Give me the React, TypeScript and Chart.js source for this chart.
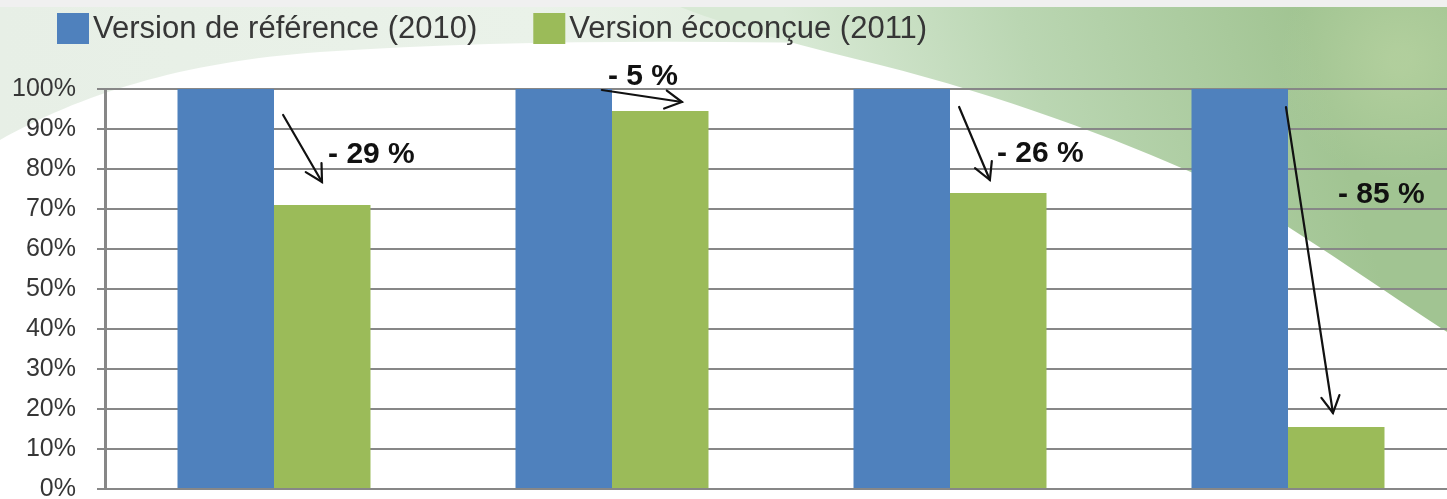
import React, { useEffect, useRef } from 'react';
import { Chart, registerables } from 'chart.js';

Chart.register(...registerables);

// ---- data ----
const categories = ['1', '2', '3', '4'];
const seriesLabels = ['Version de référence (2010)', 'Version écoconçue (2011)'];
const reference2010 = [100, 100, 100, 100];
const ecodesign2011 = [71, 94.5, 74, 15.5];
const reductionLabels = ['- 29 %', '- 5 %', '- 26 %', '- 85 %'];
const yTickStep = 10;
const yMax = 100;

// ---- styles ----
const seriesColors = ['#4f81bd', '#9bbb59'];
const FONT = "'Liberation Sans', Arial, Helvetica, sans-serif";
const gridColor = '#878787';
const textColor = '#363636';
const yAxisWidth = 105;

// annotation geometry: [category offset (fraction of a category), value]
const arrowGeometry = [
  { from: [0.027, 93.5], to: [0.142, 76.75], label: [0.16, 83.5] },
  { from: [-0.03, 99.75], to: [0.207, 96.75], label: [-0.012, 103] },
  { from: [0.027, 95.5], to: [0.118, 77.25], label: [0.139, 83.75] },
  { from: [-0.006, 95.5], to: [0.133, 19], label: [0.148, 73.5] },
];

const backgroundPlugin = {
  id: 'swooshBackground',
  beforeDraw(chart: any) {
    const ctx = chart.ctx as CanvasRenderingContext2D;
    const w = chart.width;
    const h = chart.height;
    ctx.save();
    ctx.fillStyle = '#ffffff';
    ctx.fillRect(0, 0, w, h);

    // light mint area on the top-left
    let g = ctx.createLinearGradient(0, 0, 900, 0);
    g.addColorStop(0, '#e7efe6');
    g.addColorStop(0.6, '#eaf2e9');
    g.addColorStop(1, '#dcebd9');
    ctx.fillStyle = g;
    ctx.beginPath();
    ctx.moveTo(0, 7);
    ctx.lineTo(0, 140);
    ctx.bezierCurveTo(80, 95, 180, 62, 320, 52);
    ctx.bezierCurveTo(500, 40, 700, 40, 900, 45);
    ctx.lineTo(900, 7);
    ctx.closePath();
    ctx.fill();

    // green swoosh on the right
    g = ctx.createLinearGradient(820, 140, 1300, 0);
    g.addColorStop(0, '#d8e9d5');
    g.addColorStop(0.45, '#bad6b2');
    g.addColorStop(1, '#a1c492');
    ctx.fillStyle = g;
    ctx.beginPath();
    ctx.moveTo(680, 7);
    ctx.bezierCurveTo(740, 30, 810, 48, 880, 65);
    ctx.bezierCurveTo(1000, 95, 1120, 140, 1200, 176);
    ctx.bezierCurveTo(1290, 222, 1380, 290, w, 340);
    ctx.lineTo(w, 7);
    ctx.closePath();
    ctx.fill();

    // lighter patch in the far right corner
    const rg = ctx.createRadialGradient(1400, 60, 10, 1400, 60, 120);
    rg.addColorStop(0, 'rgba(190,215,165,0.55)');
    rg.addColorStop(1, 'rgba(190,215,165,0)');
    ctx.fillStyle = rg;
    ctx.beginPath();
    ctx.moveTo(1250, 7);
    ctx.lineTo(w, 7);
    ctx.lineTo(w, 330);
    ctx.bezierCurveTo(1380, 290, 1320, 240, 1250, 205);
    ctx.closePath();
    ctx.fill();

    // gray top band
    ctx.fillStyle = '#f0f0f0';
    ctx.fillRect(0, 0, w, 7);
    ctx.restore();
  },
};

const legendPlugin = {
  id: 'leftLegend',
  afterDraw(chart: any) {
    const ctx = chart.ctx as CanvasRenderingContext2D;
    ctx.save();
    ctx.font = `31px ${FONT}`;
    ctx.textBaseline = 'middle';
    ctx.textAlign = 'left';
    let x = 57;
    const y = 13;
    const boxW = 32;
    const boxH = 31;
    chart.data.datasets.forEach((ds: any) => {
      ctx.fillStyle = ds.backgroundColor;
      ctx.fillRect(x, y, boxW, boxH);
      ctx.fillStyle = textColor;
      const tx = x + boxW + 4;
      ctx.fillText(ds.label, tx, y + boxH / 2 + 1);
      x = tx + ctx.measureText(ds.label).width + 56;
    });
    ctx.restore();
  },
};

const annotationPlugin = {
  id: 'reductionArrows',
  afterDatasetsDraw(chart: any) {
    const ctx = chart.ctx as CanvasRenderingContext2D;
    const xs = chart.scales.x;
    const ys = chart.scales.y;
    const catW = xs.getPixelForValue(1) - xs.getPixelForValue(0);
    const px = (i: number, off: number) => xs.getPixelForValue(i) + off * catW;
    ctx.save();
    ctx.strokeStyle = '#111111';
    ctx.fillStyle = '#111111';
    ctx.lineWidth = 2.2;
    ctx.lineCap = 'round';
    ctx.font = `bold 30px ${FONT}`;
    ctx.textBaseline = 'middle';
    ctx.textAlign = 'left';
    arrowGeometry.forEach((a, i) => {
      const x0 = px(i, a.from[0]);
      const y0 = ys.getPixelForValue(a.from[1]);
      const x1 = px(i, a.to[0]);
      const y1 = ys.getPixelForValue(a.to[1]);
      ctx.beginPath();
      ctx.moveTo(x0, y0);
      ctx.lineTo(x1, y1);
      ctx.stroke();
      const ang = Math.atan2(y1 - y0, x1 - x0);
      const len = 19;
      const spread = 0.5;
      ctx.beginPath();
      ctx.moveTo(x1 - len * Math.cos(ang - spread), y1 - len * Math.sin(ang - spread));
      ctx.lineTo(x1, y1);
      ctx.lineTo(x1 - len * Math.cos(ang + spread), y1 - len * Math.sin(ang + spread));
      ctx.stroke();
      ctx.fillText(reductionLabels[i], px(i, a.label[0]), ys.getPixelForValue(a.label[1]));
    });
    ctx.restore();
  },
};

export default function App() {
  const canvasRef = useRef<HTMLCanvasElement | null>(null);

  useEffect(() => {
    if (!canvasRef.current) return;
    const chart = new Chart(canvasRef.current, {
      type: 'bar',
      data: {
        labels: categories,
        datasets: [
          {
            label: seriesLabels[0],
            data: reference2010,
            backgroundColor: seriesColors[0],
            borderWidth: 0,
            categoryPercentage: 0.571,
            barPercentage: 1,
          },
          {
            label: seriesLabels[1],
            data: ecodesign2011,
            backgroundColor: seriesColors[1],
            borderWidth: 0,
            categoryPercentage: 0.571,
            barPercentage: 1,
          },
        ],
      },
      options: {
        animation: false,
        responsive: true,
        maintainAspectRatio: false,
        layout: { padding: { top: 89, left: 0, right: 3, bottom: 0 } },
        plugins: {
          legend: { display: false },
          tooltip: { enabled: false },
          title: { display: false },
        },
        scales: {
          x: {
            display: false,
          },
          y: {
            min: 0,
            max: yMax,
            afterFit: (scale: any) => {
              scale.width = yAxisWidth;
            },
            ticks: {
              stepSize: yTickStep,
              callback: (v: any) => `${v}%`,
              font: { family: FONT, size: 25 },
              color: textColor,
              padding: 21,
            },
            grid: { color: gridColor, lineWidth: 2, tickLength: 8, drawTicks: true },
            border: { display: true, color: gridColor, width: 3 },
          },
        },
      },
      plugins: [backgroundPlugin, annotationPlugin, legendPlugin],
    });
    return () => chart.destroy();
  }, []);

  return (
    <div
      style={{
        position: 'fixed',
        left: 0,
        top: 0,
        width: 1447,
        height: 499,
        overflow: 'hidden',
        background: '#ffffff',
      }}
    >
      <div style={{ position: 'relative', width: 1460, height: 525 }}>
        <canvas ref={canvasRef} />
      </div>
    </div>
  );
}
